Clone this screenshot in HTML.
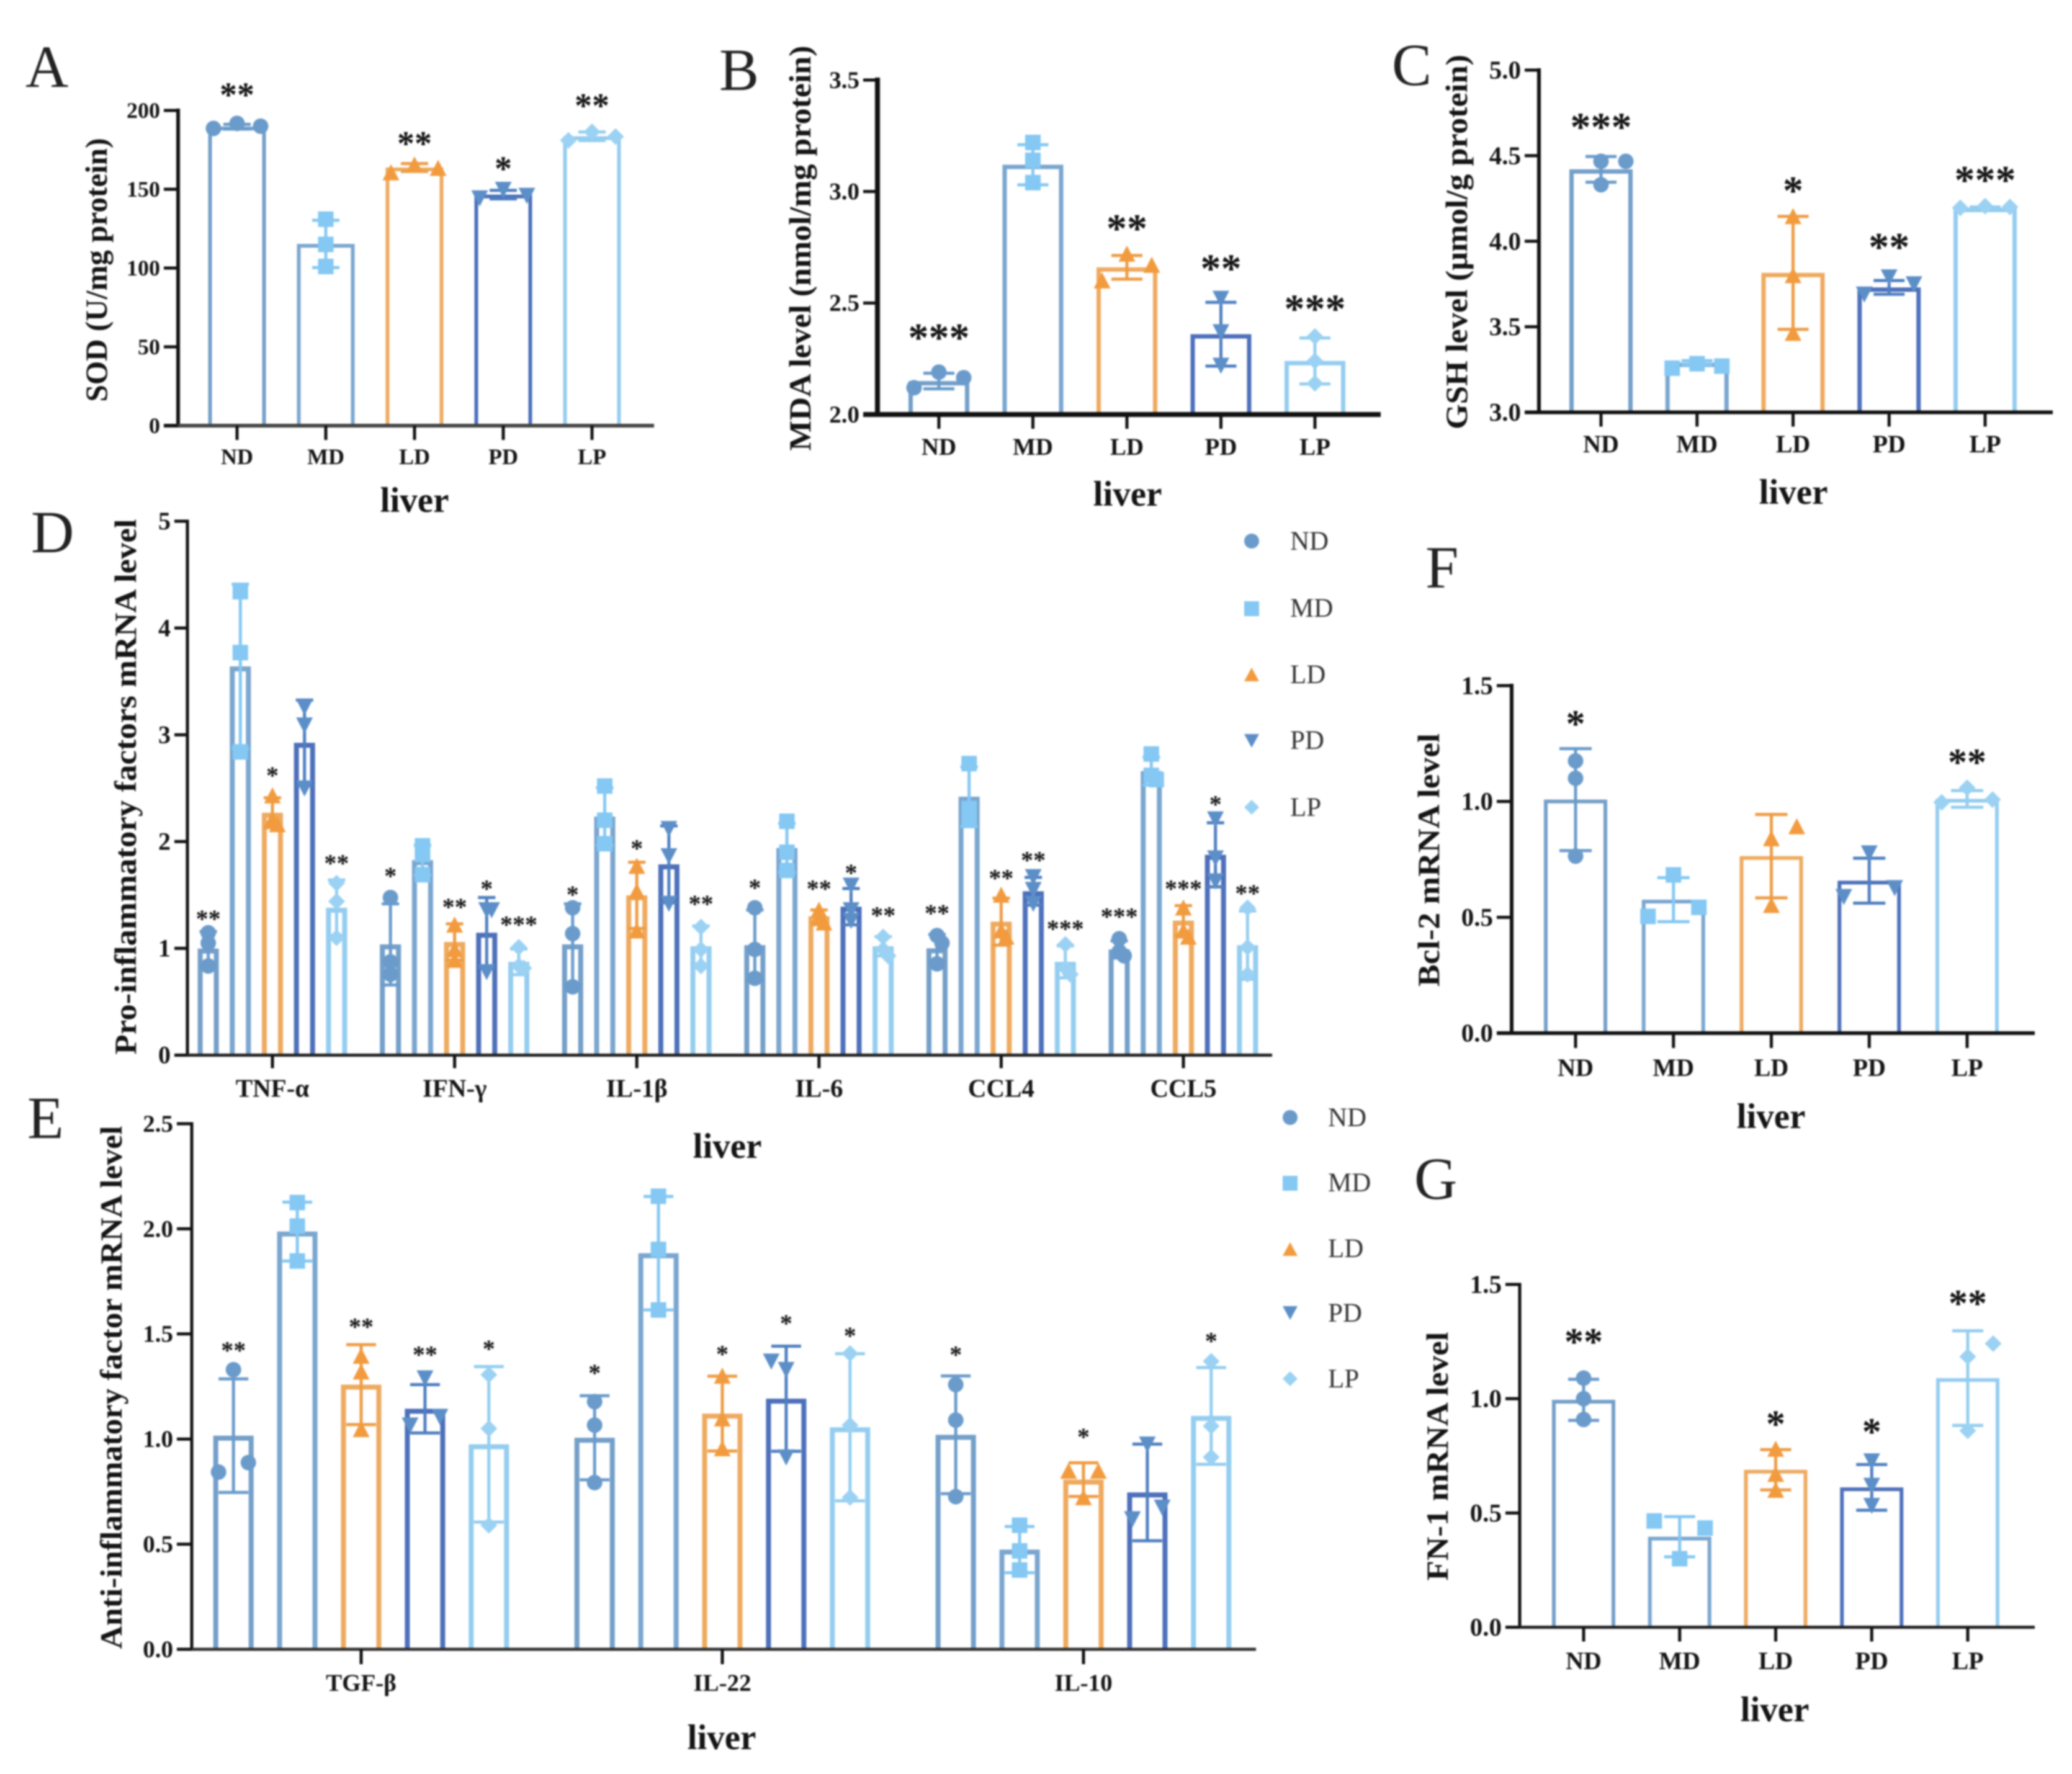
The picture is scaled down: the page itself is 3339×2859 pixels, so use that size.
<!DOCTYPE html>
<html lang="en">
<head>
<meta charset="utf-8">
<title>Liver biochemical and mRNA panels</title>
<style>
html,body{margin:0;padding:0;background:#fff;}
svg{display:block;filter:blur(1.2px);}
text{font-family:"Liberation Serif","DejaVu Serif",serif;fill:#141414;}
.letter{font-size:96px;font-weight:400;fill:#222;}
.title{font-size:50px;font-weight:700;text-anchor:middle;}
.liver{font-size:57px;font-weight:700;text-anchor:middle;}
.leg{font-size:43px;font-weight:400;fill:#333;}
</style>
</head>
<body>
<svg id="figure" xmlns="http://www.w3.org/2000/svg" width="3339" height="2859" viewBox="0 0 3339 2859">
<rect x="0" y="0" width="3339" height="2859" fill="#fff"/>
<text class="letter" x="41" y="140">A</text>
<text class="letter" x="1159" y="145">B</text>
<text class="letter" x="2243" y="137">C</text>
<text class="letter" x="50" y="890">D</text>
<text class="letter" x="44" y="1834">E</text>
<text class="letter" x="2297" y="947">F</text>
<text class="letter" x="2279" y="1932">G</text>

<text class="title" transform="translate(172 435) rotate(-90)" textLength="425" lengthAdjust="spacingAndGlyphs">SOD (U/mg protein)</text>
<text class="title" transform="translate(1306 400) rotate(-90)" textLength="653" lengthAdjust="spacingAndGlyphs">MDA level (nmol/mg protein)</text>
<text class="title" transform="translate(2364 390) rotate(-90)" textLength="604" lengthAdjust="spacingAndGlyphs">GSH level (μmol/g protein)</text>
<text class="title" transform="translate(219 1268) rotate(-90)" textLength="863" lengthAdjust="spacingAndGlyphs">Pro-inflammatory factors mRNA level</text>
<text class="title" transform="translate(196 2236) rotate(-90)" textLength="843" lengthAdjust="spacingAndGlyphs">Anti-inflammatory factor mRNA level</text>
<text class="title" transform="translate(2319 1386) rotate(-90)" textLength="408" lengthAdjust="spacingAndGlyphs">Bcl-2 mRNA level</text>
<text class="title" transform="translate(2333 2347) rotate(-90)" textLength="401" lengthAdjust="spacingAndGlyphs">FN-1 mRNA level</text>

<text class="liver" x="668" y="825">liver</text>
<text class="liver" x="1817" y="815">liver</text>
<text class="liver" x="2890" y="812">liver</text>
<text class="liver" x="1172" y="1866">liver</text>
<text class="liver" x="1163" y="2819">liver</text>
<text class="liver" x="2854" y="1818">liver</text>
<text class="liver" x="2860" y="2774">liver</text>

<g>
<circle cx="2017" cy="872" r="12" fill="#6a9bcb"/>
<text class="leg" x="2079" y="886">ND</text>
<rect x="2005" y="969" width="24" height="24" fill="#84c8f3"/>
<text class="leg" x="2079" y="994">MD</text>
<polygon points="2017,1076 2029,1098 2005,1098" fill="#f29b3e"/>
<text class="leg" x="2079" y="1101">LD</text>
<polygon points="2005,1183 2029,1183 2017,1205" fill="#5c8fc8"/>
<text class="leg" x="2079" y="1207">PD</text>
<polygon points="2017,1289 2029,1301 2017,1313 2005,1301" fill="#9bd2f3"/>
<text class="leg" x="2079" y="1315">LP</text>
</g>
<g>
<circle cx="2079" cy="1801" r="12" fill="#6a9bcb"/>
<text class="leg" x="2140" y="1815">ND</text>
<rect x="2067" y="1895" width="24" height="24" fill="#84c8f3"/>
<text class="leg" x="2140" y="1920">MD</text>
<polygon points="2079,2002 2091,2024 2067,2024" fill="#f29b3e"/>
<text class="leg" x="2140" y="2026">LD</text>
<polygon points="2067,2105 2091,2105 2079,2127" fill="#5c8fc8"/>
<text class="leg" x="2140" y="2130">PD</text>
<polygon points="2079,2210 2091,2222 2079,2234 2067,2222" fill="#9bd2f3"/>
<text class="leg" x="2140" y="2236">LP</text>
</g>
</svg>
<script>
/* ---------- shared categories ---------- */
const treatments = ['ND','MD','LD','PD','LP'];
const dCategories = ['TNF-α','IFN-γ','IL-1β','IL-6','CCL4','CCL5'];
const eCategories = ['TGF-β','IL-22','IL-10'];

/* ---------- panel A: SOD ---------- */
const aTicks = ['0','50','100','150','200'];
const aMeans = [189.7,115.3,163.8,146.6,183.6];
const aSD = [1.5,15,2.5,2.7,2.7];
const aPoints = [[188.6,191.8,190],[101,115,131],[160.6,165.5,163.4],[144.4,149.8,146],[181,186.4,183.4]];
const aSlots = [[-1,0,1],[0,0,0],[-1,0,1],[-1,0,1],[-1,0,1]];
const aSig = ['**','','**','*','**'];
const aSigAt = [213,0,182,166,206];

/* ---------- panel B: MDA ---------- */
const bTicks = ['2.0','2.5','3.0','3.5'];
const bMeans = [2.15,3.12,2.66,2.36,2.24];
const bSD = [0.035,0.09,0.053,0.143,0.103];
const bPoints = [[2.12,2.19,2.165],[3.04,3.14,3.22],[2.60,2.72,2.67],[2.22,2.37,2.52],[2.14,2.24,2.35]];
const bSlots = [[-1,0,1],[0,0,0],[-1,0,1],[0,0,0],[0,0,0]];
const bSig = ['***','','**','**','***'];
const bSigAt = [2.37,0,2.86,2.68,2.50];

/* ---------- panel C: GSH ---------- */
const cTicks = ['3.0','3.5','4.0','4.5','5.0'];
const cMeans = [4.42,3.29,3.815,3.73,4.195];
const cSD = [0.075,0.012,0.33,0.04,0.005];
const cPoints = [[4.33,4.467,4.467],[3.258,3.284,3.27],[3.463,3.80,4.145],[3.69,3.79,3.75],[4.195,4.205,4.2]];
const cSlots = [[0,0,1],[-1,0,1],[0,0,0],[-1,0,1],[-1,0,1]];
const cSig = ['***','','*','**','***'];
const cSigAt = [4.70,0,4.33,4.0,4.39];

/* ---------- panel D: pro-inflammatory ---------- */
const dTicks = ['0','1','2','3','4','5'];
const dMeans = [
  [0.998,3.64,2.27,2.925,1.38],
  [1.037,1.826,1.06,1.146,0.874],
  [1.037,2.234,1.496,1.787,1.02],
  [1.03,1.94,1.30,1.39,1.02],
  [1.0,2.42,1.25,1.535,0.874],
  [0.99,2.66,1.26,1.876,1.03]
];
const dSD = [
  [0.16,0.77,0.14,0.40,0.26],
  [0.38,0.14,0.17,0.33,0.12],
  [0.38,0.27,0.31,0.36,0.19],
  [0.33,0.23,0.06,0.17,0.09],
  [0.13,0.28,0.22,0.13,0.15],
  [0.08,0.13,0.14,0.30,0.32]
];
const dPoints = [
  [[1.146,1.05,0.835],[4.34,3.77,2.84],[2.43,2.21,2.16],[3.26,3.09,2.5],[1.61,1.44,1.1]],
  [[1.476,0.874,0.757],[1.96,1.88,1.69],[1.22,0.99,0.89],[1.36,1.36,0.78],[1.01,0.835,0.816]],
  [[1.38,1.138,0.64],[2.52,2.2,1.98],[1.77,1.535,1.165],[2.12,1.865,1.42],[1.2,0.99,0.835]],
  [[1.38,0.99,0.72],[2.19,1.90,1.73],[1.36,1.28,1.24],[1.59,1.36,1.26],[1.107,0.99,0.93]],
  [[1.12,1.05,0.855],[2.73,2.31,2.21],[1.5,1.165,1.107],[1.67,1.55,1.42],[1.037,0.815,0.757]],
  [[1.09,0.97,0.93],[2.82,2.62,2.58],[1.38,1.165,1.107],[2.21,1.845,1.63],[1.38,1.01,0.757]]
];
const dSig = [
  ['**','','*','','**'],
  ['*','','**','*','***'],
  ['*','','*','','**'],
  ['*','','**','*','**'],
  ['**','','**','**','***'],
  ['***','','***','*','**']
];
const dSigAt = [
  [1.31,0,2.65,0,1.83],
  [1.71,0,1.42,1.59,1.255],
  [1.535,0,1.97,0,1.45],
  [1.60,0,1.59,1.74,1.34],
  [1.36,0,1.69,1.857,1.216],
  [1.33,0,1.59,2.38,1.546]
];

/* ---------- panel E: anti-inflammatory ---------- */
const eTicks = ['0.0','0.5','1.0','1.5','2.0','2.5'];
const eMeans = [
  [1.016,1.987,1.259,1.144,0.975],
  [1.006,1.884,1.121,1.192,1.056],
  [1.02,0.474,0.807,0.746,1.11]
];
const eSD = [
  [0.27,0.14,0.19,0.115,0.37],
  [0.20,0.27,0.178,0.25,0.35],
  [0.28,0.11,0.08,0.23,0.23]
];
const ePoints = [
  [[0.843,1.33,0.888],[1.847,2.013,2.125],[1.046,1.32,1.395],[1.066,1.29,1.107],[0.59,1.05,1.306]],
  [[0.793,1.066,1.178],[1.614,1.902,2.155],[0.955,1.097,1.30],[1.37,1.33,0.914],[0.722,1.066,1.407]],
  [[0.726,1.09,1.259],[0.377,0.468,0.59],[0.848,0.722,0.848],[0.62,0.975,0.675],[0.914,1.062,1.37]]
];
const eSlots = [
  [[-1,0,1],[0,0,0],[0,0,0],[-1,0,1],[0,0,0]],
  [[0,0,0],[0,0,0],[0,0,0],[-1,0,0],[0,0,0]],
  [[0,0,0],[0,0,0],[-1,0,1],[-1,0,1],[0,0,0]]
];
const eSig = [
  ['**','','**','**','*'],
  ['*','','*','*','*'],
  ['*','','*','','*']
];
const eSigAt = [
  [1.438,0,1.55,1.417,1.446],
  [1.33,0,1.42,1.567,1.508],
  [1.417,0,1.026,0,1.482]
];

/* ---------- panel F: Bcl-2 ---------- */
const fTicks = ['0.0','0.5','1.0','1.5'];
const fMeans = [1.008,0.576,0.764,0.658,1.011];
const fSD = [0.22,0.095,0.18,0.097,0.036];
const fPoints = [[1.175,1.10,0.764],[0.504,0.683,0.543],[0.552,0.84,0.892],[0.589,0.777,0.627],[0.996,1.059,1.008]];
const fSlots = [[0,0,0],[-1,0,1],[0,0,1],[-1,0,1],[-1,0,1]];
const fSig = ['*','','','','**'];
const fSigAt = [1.358,0,0,0,1.193];

/* ---------- panel G: FN-1 ---------- */
const gTicks = ['0.0','0.5','1.0','1.5'];
const gMeans = [0.995,0.396,0.689,0.612,1.09];
const gSD = [0.09,0.088,0.088,0.10,0.207];
const gPoints = [[1.09,1.0,0.909],[0.465,0.30,0.434],[0.78,0.67,0.60],[0.727,0.62,0.532],[0.86,1.184,1.241]];
const gSlots = [[0,0,0],[-1,0,1],[0,0,0],[0,0,0],[0,0,1]];
const gSig = ['**','','*','*','**'];
const gSigAt = [1.272,0,0.912,0.878,1.44];

/* ---------- series colours ---------- */
const barColors = ['#739fc9','#7aa6cf','#eeaa5f','#4d70bb','#94cdf0'];
const errColors = ['#6a9bcb','#84c8f3','#ee9c44','#4f7fc0','#93cdf0'];
const markColors = ['#6a9bcb','#84c8f3','#f29b3e','#5c8fc8','#9bd2f3'];

const NS = 'http://www.w3.org/2000/svg';
const root = document.getElementById('figure');

function mk(tag, attrs, parent){
  const el = document.createElementNS(NS, tag);
  for (const k in attrs) el.setAttribute(k, attrs[k]);
  parent.appendChild(el);
  return el;
}

function drawMarker(parent, kind, cx, cy, color){
  const r = 12.5;
  let el;
  if (kind === 0) el = mk('circle', {cx:cx, cy:cy, r:r, fill:color}, parent);
  else if (kind === 1) el = mk('rect', {x:cx-r, y:cy-r, width:2*r, height:2*r, fill:color}, parent);
  else if (kind === 2) el = mk('polygon', {points:(cx)+','+(cy-r-1)+' '+(cx+r+1)+','+(cy+r)+' '+(cx-r-1)+','+(cy+r), fill:color}, parent);
  else if (kind === 3) el = mk('polygon', {points:(cx-r-1)+','+(cy-r)+' '+(cx+r+1)+','+(cy-r)+' '+(cx)+','+(cy+r+1), fill:color}, parent);
  else el = mk('polygon', {points:(cx)+','+(cy-r-1)+' '+(cx+r+1)+','+(cy)+' '+(cx)+','+(cy+r+1)+' '+(cx-r-1)+','+(cy), fill:color}, parent);
  
  
  return el;
}

function autoSlots(values, yScale, gap){
  const placed = [];
  return values.map(function(v){
    const py = yScale(v);
    const order = [0,1,-1];
    let chosen = 0;
    for (let i = 0; i < order.length; i++){
      const hit = placed.some(function(p){ return p.s === order[i] && Math.abs(p.y - py) < gap; });
      if (!hit){ chosen = order[i]; break; }
    }
    placed.push({s:chosen, y:py});
    return chosen;
  });
}

function drawBar(cfg, parent, cx, s, mean, sd, pts, slots, sig, sigAt, y){
  const g = mk('g', {}, parent);
  
  

  const half = (cfg.barWidth - cfg.barStroke) / 2;
  const bar = mk('path', {
    d:'M'+(cx-half)+' '+cfg.y0+' V'+(y(mean)+cfg.barStroke/2)+' H'+(cx+half)+' V'+cfg.y0,
    fill:'none', stroke:barColors[s], 'stroke-width':cfg.barStroke
  }, g);
  
  

  const hi = y(mean + sd), lo = y(mean - sd), cap = cfg.capWidth / 2;
  const err = mk('path', {
    d:'M'+cx+' '+hi+' V'+lo+' M'+(cx-cap)+' '+hi+' H'+(cx+cap)+' M'+(cx-cap)+' '+lo+' H'+(cx+cap),
    fill:'none', stroke:errColors[s], 'stroke-width':cfg.errStroke
  }, g);
  
  

  const sl = slots || autoSlots(pts, y, cfg.swarmGap);
  pts.forEach(function(v, j){
    drawMarker(g, s, cx + sl[j] * cfg.swarmStep, y(v), markColors[s]);
  });

  if (sig){
    const t = mk('text', {
      x:cx, y:y(sigAt) + cfg.starSize * 0.47, 'text-anchor':'middle',
      'font-size':cfg.starSize, 'font-weight':700, 'fill':'#111'
    }, g);
    t.textContent = sig;
    
    
  }
}

function drawPanel(cfg){
  const panel = mk('g', {}, root);
  
  

  const vals = cfg.ticks.map(Number);
  const vMin = vals[0], vMax = vals[vals.length - 1];
  const y = function(v){ return cfg.y0 - (v - vMin) / (vMax - vMin) * (cfg.y0 - cfg.yTop); };
  const x = function(i){ return cfg.x0 + i * cfg.step; };

  cfg.categories.forEach(function(cat, i){
    if (cfg.grouped){
      treatments.forEach(function(_, s){
        drawBar(cfg, panel, x(i) + (s - 2) * cfg.barStep, s, cfg.means[i][s], cfg.sd[i][s],
          cfg.points[i][s], cfg.slots ? cfg.slots[i][s] : null, cfg.sig[i][s], cfg.sigAt[i][s], y);
      });
    } else {
      drawBar(cfg, panel, x(i), i, cfg.means[i], cfg.sd[i], cfg.points[i],
        cfg.slots ? cfg.slots[i] : null, cfg.sig[i], cfg.sigAt[i], y);
    }
  });

  const yAxis = mk('line', {x1:cfg.axisX, x2:cfg.axisX, y1:y(vMax) - cfg.axisStroke/2, y2:cfg.y0 + cfg.axisStroke/2, stroke:'#111', 'stroke-width':cfg.axisStroke}, panel);
  
  

  const xAxis = mk('line', {x1:cfg.axisX - cfg.tick, x2:cfg.axisEnd, y1:cfg.y0, y2:cfg.y0, stroke:cfg.xAxisColor, 'stroke-width':cfg.axisStroke}, panel);
  
  

  cfg.ticks.forEach(function(label){
    const py = y(Number(label));
    const tk = mk('line', {x1:cfg.axisX - cfg.tick, x2:cfg.axisX, y1:py, y2:py, stroke:'#111', 'stroke-width':cfg.tickStroke}, panel);
    
    
    const t = mk('text', {x:cfg.axisX - cfg.tick - 6, y:py + cfg.tickFont * 0.33, 'text-anchor':'end', 'font-size':cfg.tickFont, 'font-weight':700}, panel);
    t.textContent = label;
    
    
  });

  cfg.categories.forEach(function(cat, i){
    const tk = mk('line', {x1:x(i), x2:x(i), y1:cfg.y0, y2:cfg.y0 + cfg.tick, stroke:'#111', 'stroke-width':cfg.tickStroke}, panel);
    
    
    const t = mk('text', {x:x(i), y:cfg.labelY + cfg.catFont * 0.33, 'text-anchor':'middle', 'font-size':cfg.catFont, 'font-weight':700}, panel);
    t.textContent = cat;
    
    
  });
}

drawPanel({name:'panel-a-sod', categories:treatments, ticks:aTicks, means:aMeans, sd:aSD, points:aPoints, slots:aSlots, sig:aSig, sigAt:aSigAt,
  axisX:287, axisEnd:1054, y0:686, yTop:178, x0:382, step:143, barWidth:93, barStroke:6, capWidth:44, errStroke:5,
  swarmStep:38, swarmGap:20, starSize:56, tick:23, tickStroke:5, axisStroke:6, xAxisColor:'#444', tickFont:36, catFont:36, labelY:736});

drawPanel({name:'panel-b-mda', categories:treatments, ticks:bTicks, means:bMeans, sd:bSD, points:bPoints, slots:bSlots, sig:bSig, sigAt:bSigAt,
  axisX:1414, axisEnd:2225, y0:668, yTop:129, x0:1513, step:151.5, barWidth:98, barStroke:7, capWidth:50, errStroke:5,
  swarmStep:40, swarmGap:20, starSize:66, tick:23, tickStroke:5, axisStroke:8, xAxisColor:'#111', tickFont:39, catFont:39, labelY:720});

drawPanel({name:'panel-c-gsh', categories:treatments, ticks:cTicks, means:cMeans, sd:cSD, points:cPoints, slots:cSlots, sig:cSig, sigAt:cSigAt,
  axisX:2480, axisEnd:3308, y0:664.5, yTop:113, x0:2580, step:154.75, barWidth:102, barStroke:7, capWidth:50, errStroke:5,
  swarmStep:40, swarmGap:20, starSize:66, tick:23, tickStroke:5, axisStroke:6, xAxisColor:'#111', tickFont:41, catFont:40, labelY:716});

drawPanel({name:'panel-d-pro-inflammatory', grouped:true, categories:dCategories, ticks:dTicks, means:dMeans, sd:dSD, points:dPoints, slots:null, sig:dSig, sigAt:dSigAt,
  axisX:302, axisEnd:2050, y0:1700.5, yTop:840, x0:439, step:293.6, barStep:51.7, barWidth:34, barStroke:8, capWidth:28, errStroke:5,
  swarmStep:8, swarmGap:13, starSize:40, tick:21, tickStroke:5, axisStroke:5, xAxisColor:'#222', tickFont:40, catFont:41, labelY:1754});

drawPanel({name:'panel-e-anti-inflammatory', grouped:true, categories:eCategories, ticks:eTicks, means:eMeans, sd:eSD, points:ePoints, slots:eSlots, sig:eSig, sigAt:eSigAt,
  axisX:309, axisEnd:2024, y0:2658, yTop:1811, x0:582, step:582, barStep:102.9, barWidth:65, barStroke:8, capWidth:48, errStroke:5,
  swarmStep:24, swarmGap:20, starSize:40, tick:24, tickStroke:5, axisStroke:5, xAxisColor:'#333', tickFont:39, catFont:39, labelY:2712});

drawPanel({name:'panel-f-bcl2', categories:treatments, ticks:fTicks, means:fMeans, sd:fSD, points:fPoints, slots:fSlots, sig:fSig, sigAt:fSigAt,
  axisX:2436, axisEnd:3279, y0:1665, yTop:1105, x0:2539, step:157.75, barWidth:102, barStroke:6, capWidth:52, errStroke:5,
  swarmStep:41, swarmGap:20, starSize:62, tick:24, tickStroke:5, axisStroke:6, xAxisColor:'#111', tickFont:41, catFont:40, labelY:1721});

drawPanel({name:'panel-g-fn1', categories:treatments, ticks:gTicks, means:gMeans, sd:gSD, points:gPoints, slots:gSlots, sig:gSig, sigAt:gSigAt,
  axisX:2449, axisEnd:3279, y0:2622.5, yTop:2070, x0:2552, step:154.75, barWidth:102, barStroke:6, capWidth:50, errStroke:5,
  swarmStep:41, swarmGap:20, starSize:62, tick:23, tickStroke:5, axisStroke:5, xAxisColor:'#222', tickFont:41, catFont:40, labelY:2677});
</script>
</body>
</html>
